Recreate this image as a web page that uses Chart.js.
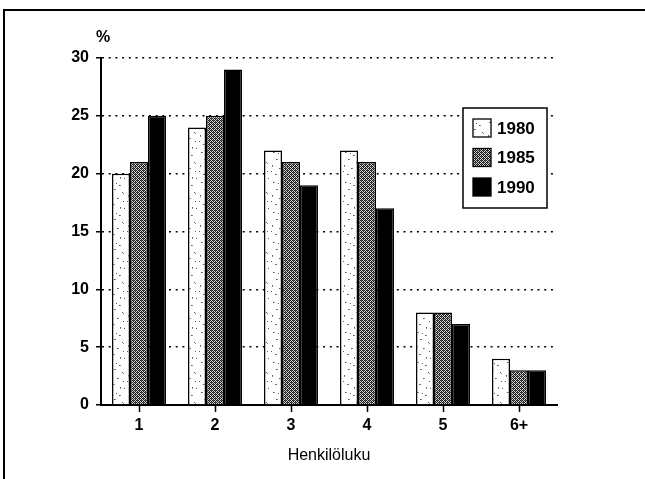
<!DOCTYPE html>
<html>
<head>
<meta charset="utf-8">
<script src="https://cdn.jsdelivr.net/npm/chart.js@4/dist/chart.umd.min.js"></script>
<style>
html,body{margin:0;padding:0;background:#fff;}
#wrap{width:645px;height:479px;position:relative;}
</style>
</head>
<body>
<div id="wrap"><canvas id="c" width="645" height="479"></canvas></div>
<script>
const categories = ['1', '2', '3', '4', '5', '6+'];
const seriesNames = ['1980', '1985', '1990'];
const values1980 = [20, 24, 22, 22, 8, 4];
const values1985 = [21, 25, 21, 21, 8, 3];
const values1990 = [25, 29, 19, 17, 7, 3];
const yTicks = [0, 5, 10, 15, 20, 25, 30];
const xTitle = 'Henkilöluku';
const yUnit = '%';

// fill patterns (style only)
function makeSpecklePattern() {
  const c = document.createElement('canvas');
  c.width = 18; c.height = 30;
  const g = c.getContext('2d');
  g.fillStyle = '#ffffff'; g.fillRect(0, 0, 18, 30);
  g.fillStyle = '#5a5a5a';
  const specks = [[3,2],[11,5],[6,9],[14,12],[2,15],[9,18],[15,21],[5,24],[12,27],[8,3],[1,21],[16,28]];
  specks.forEach(p => g.fillRect(p[0], p[1], 1, 1));
  g.fillStyle = '#8a8a8a';
  [[4,2],[12,5],[7,9],[2,16],[10,18],[6,24],[15,13],[12,28]].forEach(p => g.fillRect(p[0], p[1], 1, 1));
  return g.createPattern(c, 'repeat');
}
function makeCheckerPattern() {
  const c = document.createElement('canvas');
  c.width = 4; c.height = 4;
  const g = c.getContext('2d');
  g.fillStyle = '#d8d8d8'; g.fillRect(0, 0, 4, 4);
  g.fillStyle = '#1a1a1a';
  for (let y = 0; y < 4; y++) for (let x = 0; x < 4; x++) {
    if ((x + y) % 2 === 0) g.fillRect(x, y, 1, 1);
  }
  g.fillStyle = '#555';
  g.fillRect(1, 0, 1, 1); g.fillRect(3, 2, 1, 1);
  return g.createPattern(c, 'repeat');
}
const fills = [makeSpecklePattern(), makeCheckerPattern(), '#000000'];
const seriesValues = [values1980, values1985, values1990];

const FONT_FAMILY = '"Liberation Sans", Arial, sans-serif';
const TICK_FONT = {family: FONT_FAMILY, size: 16, weight: 'bold'};

const framePlugin = {
  id: 'frame',
  beforeDraw(chart) {
    const ctx = chart.ctx;
    ctx.save();
    ctx.fillStyle = '#fff';
    ctx.fillRect(0, 0, chart.width, chart.height);
    ctx.strokeStyle = '#000';
    ctx.lineWidth = 2;
    ctx.beginPath();
    ctx.moveTo(4, chart.height);
    ctx.lineTo(4, 10);
    ctx.lineTo(chart.width, 10);
    ctx.stroke();
    ctx.restore();
  },
  afterDraw(chart) {
    const ctx = chart.ctx;
    const y = chart.scales.y;
    ctx.save();
    // unit label
    ctx.fillStyle = '#000';
    ctx.font = 'bold 16px ' + FONT_FAMILY;
    ctx.textAlign = 'center';
    ctx.textBaseline = 'middle';
    ctx.fillText(yUnit, y.right + 2, 38);
    // legend box
    const bx = 463, by = 108, bw = 84, bh = 100;
    ctx.fillStyle = '#fff';
    ctx.fillRect(bx, by, bw, bh);
    ctx.strokeStyle = '#000';
    ctx.lineWidth = 1.5;
    ctx.strokeRect(bx, by, bw, bh);
    chart.data.datasets.forEach((ds, i) => {
      const cy = 128 + i * 29.5;
      ctx.fillStyle = ds.backgroundColor;
      ctx.fillRect(473, cy - 9, 18, 18);
      ctx.lineWidth = 1.3;
      ctx.strokeStyle = '#000';
      ctx.strokeRect(473, cy - 9, 18, 18);
      ctx.fillStyle = '#000';
      ctx.font = 'bold 17px ' + FONT_FAMILY;
      ctx.textAlign = 'left';
      ctx.textBaseline = 'middle';
      ctx.fillText(ds.label, 497, cy + 1);
    });
    ctx.restore();
  }
};

new Chart(document.getElementById('c'), {
  type: 'bar',
  data: {
    labels: categories,
    datasets: seriesNames.map((name, i) => ({
      label: name,
      data: seriesValues[i],
      backgroundColor: fills[i],
      borderColor: '#000',
      borderWidth: 1.5,
      borderSkipped: 'bottom',
      barPercentage: 1.0,
      categoryPercentage: 0.71
    }))
  },
  options: {
    responsive: false,
    animation: false,
    devicePixelRatio: 1,
    layout: {padding: {left: 0, top: 58, right: 88, bottom: 0}},
    plugins: {legend: {display: false}, tooltip: {enabled: false}},
    scales: {
      x: {
        offset: true,
        grid: {display: true, offset: false, drawOnChartArea: false, drawTicks: true, tickLength: 7, tickColor: '#000', tickWidth: 1.5},
        border: {display: true, color: '#000', width: 2},
        ticks: {color: '#000', font: TICK_FONT, padding: 4, maxRotation: 0},
        title: {display: true, text: xTitle, color: '#000', font: {family: FONT_FAMILY, size: 16}, padding: {top: 0, bottom: 14}},
        afterFit(s) { s.height = 74; }
      },
      y: {
        min: 0, max: 30,
        afterBuildTicks(s) { s.ticks = yTicks.map(v => ({value: v})); },
        grid: {display: true, color: '#000', lineWidth: 1.5, drawTicks: true, tickLength: 5, tickColor: '#000', tickWidth: 1.5, tickBorderDash: []},
        border: {display: true, color: '#000', width: 2, dash: [2, 4.7]},
        ticks: {color: '#000', font: TICK_FONT, padding: 7},
        afterFit(s) { s.width = 101; }
      }
    }
  },
  plugins: [framePlugin]
});
</script>
</body>
</html>
